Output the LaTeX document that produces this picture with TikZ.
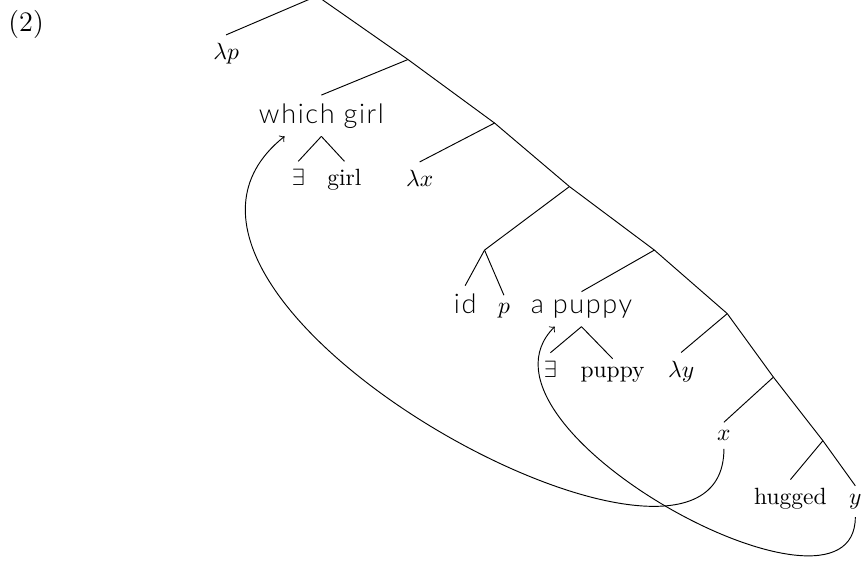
\documentclass[tikz,border=0pt]{standalone}
\usepackage{amsmath,amssymb}
\usepackage{fontspec}
\usepackage{tikz}
\IfFontExistsTF{Lato Light}
  {\newfontfamily\lsans[Scale=1.15,LetterSpace=6]{Lato Light}}
  {\newfontfamily\lsans[Scale=1.15,LetterSpace=6]{Lato}}

\begin{document}
\begin{tikzpicture}[level distance=0.95cm,every node/.style={anchor=base},parent anchor=south,child anchor=north]
\useasboundingbox (-4.741,-0.060) rectangle (8.135,-8.450);
\node[anchor=base west,inner xsep=0pt,font=\large] (num) at (-4.621,-0.531) {(2)};
\coordinate (r)
    child[sibling distance=2.72cm] {node (lamp) {$\lambda p$}}
    child[sibling distance=2.72cm] {coordinate (n1)
        child[sibling distance=2.59cm] {node (wg) {\lsans which girl}
            child[sibling distance=0.69cm,level distance=1.05cm] {node (ex1) {$\exists$}}
            child[sibling distance=0.69cm,level distance=1.05cm] {node (girl) {girl}}
        }
        child[sibling distance=2.59cm] {coordinate (n2)
            child[sibling distance=2.24cm] {node (lamx) {$\lambda x$}}
            child[sibling distance=2.24cm] {coordinate (n3)
                child[sibling distance=2.54cm] {coordinate (m)
                    child[sibling distance=0.58cm] {node (id) {\lsans id}}
                    child[sibling distance=0.58cm] {node (pp) {$p$}}
                }
                child[sibling distance=2.54cm] {coordinate (n4)
                    child[sibling distance=2.18cm] {node (ap) {\lsans a puppy}
                        child[sibling distance=0.93cm,level distance=1.02cm] {node (ex2) {$\exists$}}
                        child[sibling distance=0.93cm,level distance=1.02cm] {node (puppy) {puppy}}
                    }
                    child[sibling distance=2.18cm] {coordinate (n5)
                        child[sibling distance=1.38cm] {node (lamy) {$\lambda y$}}
                        child[sibling distance=1.38cm] {coordinate (n6)
                            child[sibling distance=1.48cm] {node (tx) {$x$}}
                            child[sibling distance=1.48cm] {coordinate (n7)
                                child[sibling distance=0.97cm] {node (hug) {hugged}}
                                child[sibling distance=0.97cm] {node (ty) {$y$}}
                            }
                        }
                    }
                }
            }
        }
    };
% movement arrows
\draw[->] (tx.south) .. controls +(0,-2.9) and +(-2.99,-2.39) .. ([xshift=-0.55cm]wg.south);
\draw[->] (ty.south) .. controls +(0,-1.9) and +(-1.50,-1.50) .. ([xshift=-0.40cm]ap.south);
\end{tikzpicture}
\end{document}
